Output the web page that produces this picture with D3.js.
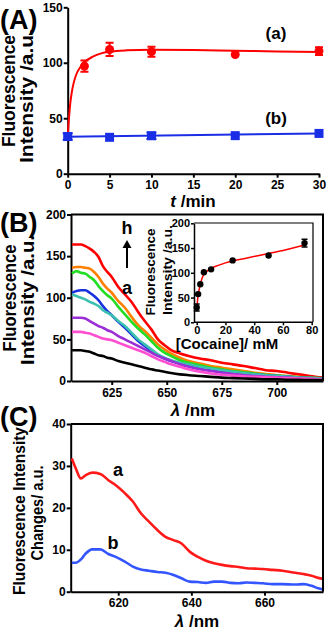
<!DOCTYPE html>
<html>
<head>
<meta charset="utf-8">
<script src="https://cdn.jsdelivr.net/npm/d3@7"></script>
<style>
  body { margin: 0; background: #fff; }
  svg { display: block; font-family: "Liberation Sans", Arial, sans-serif; font-weight: bold; }
  .axis path, .axis line { stroke: #000; stroke-width: 2px; }
  .axis text { font-size: 12px; font-weight: bold; fill: #000; }
</style>
</head>
<body>
<svg id="chart" width="327" height="630"></svg>
<script>
// ---- panel A : kinetics ----
var timeA = [2, 5, 10, 20, 30];
var redA = [97, 112, 110, 107.5, 110.5];
var redErrA = [5, 6, 4.5, 0, 3.5];
var timeB = [0, 5, 10, 20, 30];
var blueB = [33.5, 32.8, 34.2, 34.3, 36.3];
var blueErrB = [3, 0, 3, 0, 0];
var fitTimeA = [0, 0.15, 0.3, 0.5, 0.75, 1, 1.5, 2, 3, 4, 5, 7, 10, 15, 20, 25, 30];
var fitRedA = [34, 50, 63, 74, 83, 89, 96, 100.5, 105.5, 108.5, 110, 111.2, 111.7, 111.5, 110.8, 110.2, 109.6];
var fitBlueA = [33.3, 36.3];
var ticksTimeA = [0, 5, 10, 15, 20, 25, 30];

// ---- panel B : spectra a..h ----
var lambdaB = [607, 609, 611, 613, 615, 617, 619, 621, 623, 625, 628, 631, 634, 637, 640, 643, 646, 649, 652, 656, 660, 665, 670, 675, 680, 685, 690, 695, 700, 705, 710, 715, 721];
var specA = [37, 37, 37, 36, 35, 33, 31, 30, 28, 27, 24, 22, 20, 18, 16, 14, 12.5, 11, 9.5, 8, 7, 6, 5, 4, 3.5, 3, 2.5, 2, 2, 1.5, 1.5, 1, 1];
var specB = [59, 59, 59, 58, 57, 55, 53, 51, 50, 49, 46, 43, 40, 37, 34, 30, 26, 23, 20, 17, 14, 11, 9, 7.5, 6.5, 5.5, 5, 4.5, 4, 3.5, 3, 2.5, 2];
var specC = [76, 76, 76, 75, 72, 69, 66, 64, 61, 59, 54, 50, 46, 42, 38, 34, 30, 27, 24, 20, 17, 14, 12, 10, 8.5, 7, 6, 5, 4.5, 4, 3, 2.5, 2];
var specD = [104, 102, 100, 98, 95, 93, 90, 85, 82, 79, 72, 66, 58, 50, 44, 38, 32, 28, 25, 22, 20, 17, 15, 13, 11, 9.5, 8, 7, 6, 5, 4, 3.5, 3];
var specE = [106, 108, 109, 109, 106, 102, 97, 90, 84, 79, 71, 64, 56, 48, 42, 36, 31, 27, 24, 21, 19, 16, 14, 12, 10.5, 9, 8, 7, 6, 5, 4, 3.5, 3];
var specF = [129, 132, 130, 129, 125, 121, 114, 108, 103, 99, 89, 80, 71, 63, 56, 48, 40, 34, 30, 25, 22, 19, 16, 14, 12, 10.5, 9, 7.5, 6.5, 5.5, 4.5, 4, 3];
var specG = [136, 137, 137, 136, 135, 131, 125, 117, 111, 106, 96, 88, 77, 67, 60, 52, 44, 38, 33, 28, 24, 21, 18, 16, 14, 12, 10, 8.5, 7, 6, 5, 4, 3];
var specH = [164, 164, 164, 162, 159, 155, 149, 138, 131, 125, 113, 104, 95, 83, 72, 62, 50, 43, 37, 33, 30, 27, 25, 22, 20, 18, 15.5, 13, 12, 10, 8, 6, 4];
var specColors = ["#000000", "#ff4fd0", "#9a2fd6", "#3cc0b0", "#1630e0", "#22dd22", "#ff8000", "#ff0000"];
var ticksLambdaB = [625, 650, 675, 700];

// ---- panel B inset : cocaine ----
var cocaine = [0, 1, 2.5, 5, 10, 25, 50, 75];
var insetVal = [30, 57, 77, 101, 107, 125, 135, 160];
var insetErr = [7, 0, 0, 0, 0, 0, 0, 8];
var fitCocaine = [0, 0.5, 1, 2, 3, 4, 5, 7.5, 10, 15, 20, 25, 35, 50, 60, 75];
var fitInset = [22, 42, 55, 70, 82, 91, 97, 104, 109, 115, 120, 124, 130, 139, 145, 156];

// ---- panel C : difference spectra ----
var lambdaC = [607.3, 608.4, 609.8, 611.1, 612.9, 615.1, 617.3, 619.6, 621.8, 624, 626.2, 628.4, 630.7, 632.9, 635.1, 637.3, 639.6, 641.8, 644, 646.2, 648.4, 650.7, 652.9, 655.1, 657.3, 659.6, 662.2, 664.9, 668.4, 670.7, 672.9, 674.7, 676];
var diffA = [31.8, 29.4, 27.0, 27.8, 28.4, 28.1, 26.6, 25.2, 23.5, 21.5, 18.7, 16.7, 14.7, 13.1, 12.3, 11.5, 9.5, 8.3, 7.4, 6.8, 6.4, 6.1, 5.9, 5.6, 5.5, 5.4, 5.2, 5.0, 4.5, 4.2, 3.8, 3.3, 3.1];
var diffB = [6.9, 6.9, 7.7, 9.1, 10.1, 10.1, 9.0, 8.2, 7.2, 6.0, 5.3, 5.0, 4.7, 4.5, 4.0, 3.2, 2.4, 2.3, 2.1, 2.4, 2.4, 2.1, 2.0, 2.2, 2.1, 2.0, 1.8, 1.8, 1.7, 1.8, 1.4, 0.8, 0.5];
var ticksLambdaC = [620, 640, 660];

var svg = d3.select("#chart");

function yTitle(x1, y1, t1, len1, x2, y2, t2, len2, size) {
  svg.append("text")
    .attr("transform", "translate(" + x1 + "," + y1 + ") rotate(-90)")
    .attr("text-anchor", "middle")
    .attr("font-size", size)
    .attr("textLength", len1)
    .attr("lengthAdjust", "spacingAndGlyphs")
    .text(t1);
  svg.append("text")
    .attr("transform", "translate(" + x2 + "," + y2 + ") rotate(-90)")
    .attr("text-anchor", "middle")
    .attr("font-size", size)
    .attr("textLength", len2)
    .attr("lengthAdjust", "spacingAndGlyphs")
    .text(t2);
}

function panelLetter(txt, y) {
  svg.append("text")
    .attr("x", 0)
    .attr("y", y)
    .attr("font-size", 27)
    .text(txt);
}

function frame(x, y) {
  var xr = x.range(), yr = y.range();
  svg.append("path")
    .attr("d", "M" + xr[0] + "," + yr[1] + "H" + xr[1] + "V" + yr[0])
    .attr("fill", "none")
    .attr("stroke", "#000")
    .attr("stroke-width", 2);
}

// ================= A =================
var xA = d3.scaleLinear().domain([0, 30]).range([67.7, 319]);
var yA = d3.scaleLinear().domain([0, 150]).range([173.7, 7.3]);

svg.append("g").attr("class", "axis")
  .attr("transform", "translate(0," + 173.7 + ")")
  .call(d3.axisBottom(xA).tickValues(ticksTimeA).tickSize(4).tickSizeOuter(0).tickPadding(3));
svg.append("g").attr("class", "axis")
  .attr("transform", "translate(" + 67.7 + ",0)")
  .call(d3.axisLeft(yA).ticks(3).tickSize(4).tickSizeOuter(0).tickPadding(1));

svg.append("path")
  .datum(d3.zip(fitTimeA, fitRedA))
  .attr("fill", "none").attr("stroke", "#ff0000").attr("stroke-width", 2)
  .attr("d", d3.line().curve(d3.curveMonotoneX).x(function(d) { return xA(d[0]); }).y(function(d) { return yA(d[1]); }));
svg.append("path")
  .datum(d3.zip([0, 30], fitBlueA))
  .attr("fill", "none").attr("stroke", "#1a2ee6").attr("stroke-width", 2)
  .attr("d", d3.line().x(function(d) { return xA(d[0]); }).y(function(d) { return yA(d[1]); }));

function errBars(x, y, xs, ys, es, color, cap) {
  xs.forEach(function(v, i) {
    if (!es[i]) return;
    var cx = x(v), y0 = y(ys[i] - es[i]), y1 = y(ys[i] + es[i]);
    svg.append("path")
      .attr("d", "M" + cx + "," + y0 + "V" + y1 + "M" + (cx - cap) + "," + y0 + "h" + 2 * cap + "M" + (cx - cap) + "," + y1 + "h" + 2 * cap)
      .attr("stroke", color).attr("stroke-width", 2).attr("fill", "none");
  });
}

errBars(xA, yA, timeA, redA, redErrA, "#ff0000", 4);
svg.selectAll(".redpt")
  .data(d3.zip(timeA, redA))
  .enter().append("circle")
  .attr("cx", function(d) { return xA(d[0]); })
  .attr("cy", function(d) { return yA(d[1]); })
  .attr("r", 4.5)
  .attr("fill", "#ff0000");

errBars(xA, yA, timeB, blueB, blueErrB, "#1a2ee6", 5);
svg.selectAll(".bluept")
  .data(d3.zip(timeB, blueB))
  .enter().append("rect")
  .attr("x", function(d) { return xA(d[0]) - 4.5; })
  .attr("y", function(d) { return yA(d[1]) - 4.5; })
  .attr("width", 9).attr("height", 9)
  .attr("fill", "#1a2ee6");

svg.append("text").attr("x", 276).attr("y", 39).attr("text-anchor", "middle").attr("font-size", 17).text("(a)");
svg.append("text").attr("x", 276).attr("y", 124).attr("text-anchor", "middle").attr("font-size", 17).text("(b)");

var tA = svg.append("text").attr("x", 193).attr("y", 207).attr("text-anchor", "middle").attr("font-size", 17);
tA.append("tspan").attr("font-style", "italic").text("t");
tA.append("tspan").text(" /min");

yTitle(15, 91, "Fluorescence", 112, 33, 96, "Intensity /a.u.", 134, 18);
panelLetter("(A)", 29);

// ================= B =================
var xB = d3.scaleLinear().domain([606.5, 721]).range([71, 323]);
var yB = d3.scaleLinear().domain([0, 200]).range([381, 214.5]);

svg.append("g").attr("class", "axis")
  .attr("transform", "translate(0,381)")
  .call(d3.axisBottom(xB).tickValues(ticksLambdaB).tickSize(4).tickSizeOuter(0).tickPadding(3));
svg.append("g").attr("class", "axis")
  .attr("transform", "translate(71,0)")
  .call(d3.axisLeft(yB).ticks(4).tickSize(4).tickSizeOuter(0).tickPadding(1));

var specs = [specA, specB, specC, specD, specE, specF, specG, specH];
var lineB = d3.line().curve(d3.curveMonotoneX)
  .x(function(d) { return xB(d[0]); })
  .y(function(d) { return yB(d[1]); });
specs.slice().reverse().forEach(function(s, i) {
  svg.append("path")
    .datum(d3.zip(lambdaB, s))
    .attr("fill", "none")
    .attr("stroke", specColors[7 - i])
    .attr("stroke-width", 2.6)
    .attr("d", lineB);
});
frame(xB, yB);

svg.append("text").attr("x", 127).attr("y", 234).attr("text-anchor", "middle").attr("font-size", 18).text("h");
svg.append("text").attr("x", 127).attr("y", 294).attr("text-anchor", "middle").attr("font-size", 18).text("a");
svg.append("path").attr("d", "M127,268V247").attr("stroke", "#000").attr("stroke-width", 2);
svg.append("path").attr("d", "M122.5,248L127,240L131.5,248Z").attr("fill", "#000");

var tB = svg.append("text").attr("x", 193).attr("y", 416).attr("text-anchor", "middle").attr("font-size", 17);
tB.append("tspan").attr("font-style", "italic").text("λ");
tB.append("tspan").text(" /nm");

yTitle(16, 298, "Fluorescence", 107, 34, 300, "Intensity /a.u.", 130, 18);
panelLetter("(B)", 232);

// ---- inset ----
var xI = d3.scaleLinear().domain([0, 80]).range([196.7, 311.7]);
var yI = d3.scaleLinear().domain([0, 200]).range([322.3, 223.3]);
svg.append("rect").attr("x", 194).attr("y", 223).attr("width", 119).attr("height", 99).attr("fill", "#fff");
svg.append("path")
  .attr("d", "M194,223H313V322.3")
  .attr("fill", "none").attr("stroke", "#000").attr("stroke-width", 1.2);
var ax1 = svg.append("g").attr("class", "axis")
  .attr("transform", "translate(0,322.3)")
  .call(d3.axisBottom(xI).ticks(4).tickSize(3).tickSizeOuter(0).tickPadding(1));
var ax2 = svg.append("g").attr("class", "axis")
  .attr("transform", "translate(194,0)")
  .call(d3.axisLeft(yI).ticks(4).tickSize(3).tickSizeOuter(0).tickPadding(1));
ax1.select(".domain").attr("d", "M194,0H313");
[ax1, ax2].forEach(function(a) {
  a.selectAll("path, line").style("stroke-width", "1.5px");
  a.selectAll("text").style("font-size", "11px");
});

svg.append("path")
  .datum(d3.zip(fitCocaine, fitInset))
  .attr("fill", "none").attr("stroke", "#ff0000").attr("stroke-width", 1.5)
  .attr("d", d3.line().curve(d3.curveMonotoneX).x(function(d) { return xI(d[0]); }).y(function(d) { return yI(d[1]); }));
cocaine.forEach(function(c, i) {
  if (insetErr[i]) {
    var cx = xI(c), y0 = yI(insetVal[i] - insetErr[i]), y1 = yI(insetVal[i] + insetErr[i]);
    svg.append("path")
      .attr("d", "M" + cx + "," + y0 + "V" + y1 + "M" + (cx - 3) + "," + y0 + "h6M" + (cx - 3) + "," + y1 + "h6")
      .attr("stroke", "#000").attr("stroke-width", 1.5).attr("fill", "none");
  }
});
svg.selectAll(".inpt")
  .data(d3.zip(cocaine, insetVal))
  .enter().append("circle")
  .attr("cx", function(d) { return xI(d[0]); })
  .attr("cy", function(d) { return yI(d[1]); })
  .attr("r", 3.2)
  .attr("fill", "#000");

svg.append("text").attr("x", 227).attr("y", 349).attr("text-anchor", "middle").attr("font-size", 15).text("[Cocaine]/ mM");
yTitle(155, 272, "Fluorescence", 87, 172, 270, "Intensity /a.u.", 90, 13.5);

// ================= C =================
var xC = d3.scaleLinear().domain([607, 676]).range([70.7, 323]);
var yC = d3.scaleLinear().domain([0, 40]).range([591.7, 424]);

svg.append("g").attr("class", "axis")
  .attr("transform", "translate(0,591.7)")
  .call(d3.axisBottom(xC).tickValues(ticksLambdaC).tickSize(4).tickSizeOuter(0).tickPadding(3));
svg.append("g").attr("class", "axis")
  .attr("transform", "translate(70.7,0)")
  .call(d3.axisLeft(yC).ticks(4).tickSize(4).tickSizeOuter(0).tickPadding(1));

var lineC = d3.line().curve(d3.curveMonotoneX)
  .x(function(d) { return xC(d[0]); })
  .y(function(d) { return yC(d[1]); });
svg.append("path").datum(d3.zip(lambdaC, diffA))
  .attr("fill", "none").attr("stroke", "#ff1a1a").attr("stroke-width", 2.6).attr("d", lineC);
svg.append("path").datum(d3.zip(lambdaC, diffB))
  .attr("fill", "none").attr("stroke", "#3355ff").attr("stroke-width", 2.6).attr("d", lineC);
frame(xC, yC);

svg.append("text").attr("x", 118).attr("y", 476).attr("text-anchor", "middle").attr("font-size", 18).text("a");
svg.append("text").attr("x", 113).attr("y", 549).attr("text-anchor", "middle").attr("font-size", 18).text("b");

panelLetter("(C)", 426);

var tC = svg.append("text").attr("x", 197).attr("y", 627).attr("text-anchor", "middle").attr("font-size", 17);
tC.append("tspan").attr("font-style", "italic").text("λ");
tC.append("tspan").text(" /nm");

yTitle(25, 511, "Fluorescence Intensity", 168, 43, 513, "Changes/ a.u.", 95, 17);
</script>
</body>
</html>
